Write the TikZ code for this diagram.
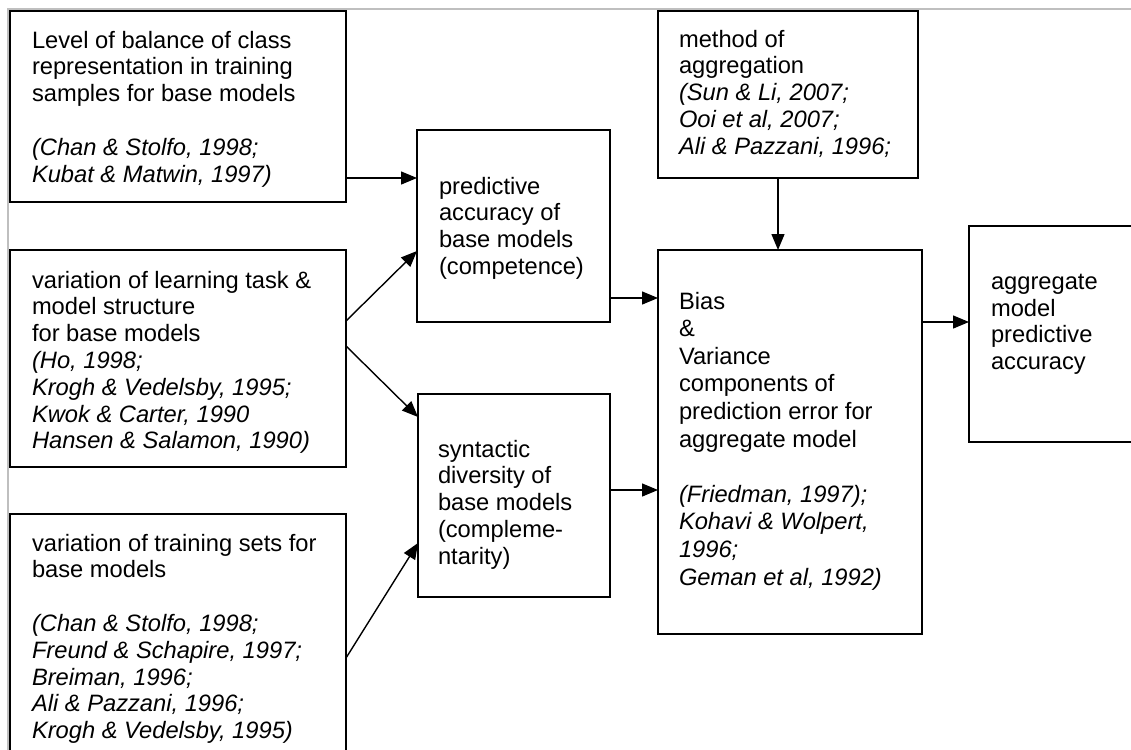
\documentclass[tikz,border=0pt]{standalone}
\usepackage{fontspec}
\setmainfont{Liberation Sans}
\usetikzlibrary{arrows.meta}
\tikzset{
  box/.style={draw=black, line width=1.7pt, inner sep=0pt, outer sep=0pt, anchor=north west},
  txt/.style={anchor=north west, inner sep=0pt, outer sep=0pt, align=left, font=\fontsize{23.7}{26.8}\selectfont},
  arr/.style={line width=1.4pt, -{Triangle[length=16pt,width=13pt]}},
  pageframe/.style={draw=black!25, line width=1.5pt}
}
\begin{document}
\begin{tikzpicture}[x=1pt,y=-1pt]
\useasboundingbox (0,0) rectangle (1131,749);
% page frame remnants
\draw[pageframe] (8,760) -- (8,9) -- (1140,9);

% boxes
\node[box, minimum width=336pt, minimum height=191pt] (b1) at (10,11) {};
\node[box, minimum width=336pt, minimum height=217pt] (b2) at (10,250) {};
\node[box, minimum width=336pt, minimum height=260pt] (b3) at (10,514) {};
\node[box, minimum width=193pt, minimum height=192pt] (pa) at (417,130) {};
\node[box, minimum width=192pt, minimum height=203pt] (sd) at (418,394) {};
\node[box, minimum width=260pt, minimum height=167pt] (ma) at (658,11) {};
\node[box, minimum width=264pt, minimum height=384pt] (bv) at (658,250) {};
\node[box, minimum width=190pt, minimum height=216pt] (ag) at (969,226) {};

% texts
\node[txt] (b1t) at (32,31) {Level of balance of class\\representation in training\\samples for base models\\\strut\\\itshape(Chan \& Stolfo, 1998;\\\itshape Kubat \& Matwin, 1997)};
\node[txt] (b2t) at (32,271) {variation of learning task \&\\model structure\\for base models\\\itshape(Ho, 1998;\\\itshape Krogh \& Vedelsby, 1995;\\\itshape Kwok \& Carter, 1990\\\itshape Hansen \& Salamon, 1990)};
\node[txt] (b3t) at (32,534) {variation of training sets for\\base models\\\strut\\\itshape(Chan \& Stolfo, 1998;\\\itshape Freund \& Schapire, 1997;\\\itshape Breiman, 1996;\\\itshape Ali \& Pazzani, 1996;\\\itshape Krogh \& Vedelsby, 1995)};
\node[txt] (pat) at (439,177) {predictive\\accuracy of\\base models\\(competence)};
\node[txt] (sdt) at (438,440) {syntactic\\diversity of\\base models\\(compleme-\\ntarity)};
\node[txt] (mat) at (679,30) {method of\\aggregation\\\itshape(Sun \& Li, 2007;\\\itshape Ooi et al, 2007;\\\itshape Ali \& Pazzani, 1996;};
\node[txt, font=\fontsize{23.7}{27.6}\selectfont] (bvt) at (679,292) {Bias\\\&\\Variance\\components of\\prediction error for\\aggregate model\\\strut\\\itshape(Friedman, 1997);\\\itshape Kohavi \& Wolpert,\\\itshape 1996;\\\itshape Geman et al, 1992)};
\node[txt] (agt) at (991,274) {aggregate\\model\\predictive\\accuracy};

% connectors
\draw[arr] (b1.east |- 0,178) -- (pa.west |- 0,178);
\draw[arr] (b2.east |- 0,321) -- (pa.west |- 0,251);
\draw[arr] (b2.east |- 0,346) -- (sd.west |- 0,417);
\draw[arr] (b3.east |- 0,658) -- (sd.west |- 0,543);
\draw[arr] (pa.east |- 0,298) -- (bv.west |- 0,298);
\draw[arr] (sd.east |- 0,490) -- (bv.west |- 0,490);
\draw[arr] (ma.south -| 778,0) -- (bv.north -| 778,0);
\draw[arr] (bv.east |- 0,322) -- (ag.west |- 0,322);
\end{tikzpicture}
\end{document}
